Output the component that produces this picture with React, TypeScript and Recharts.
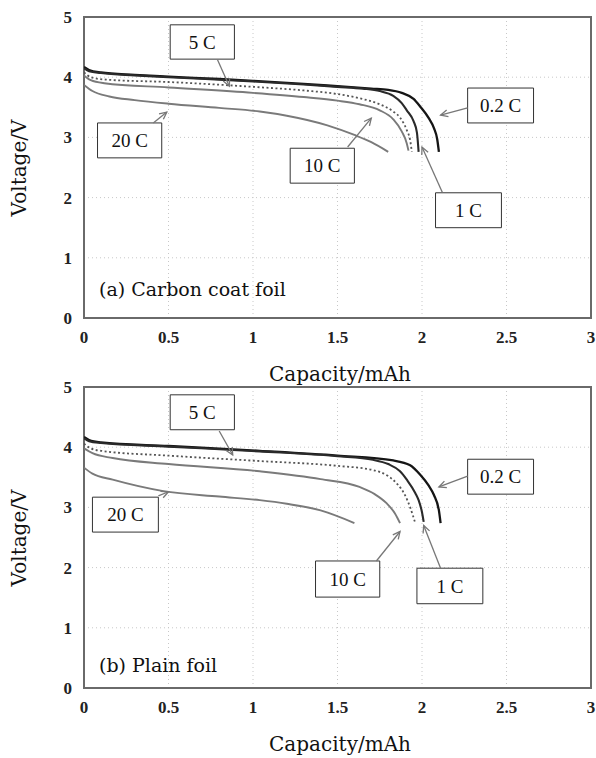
import React from "react"
import {
  LineChart,
  Line,
  XAxis,
  YAxis,
  CartesianGrid,
  ReferenceArea,
  ReferenceLine,
} from "recharts"

// ── Data: [capacity mAh, voltage V] ─────────────────────────────────────────
const X_TICKS = [0, 0.5, 1, 1.5, 2, 2.5, 3]
const Y_TICKS = [0, 1, 2, 3, 4, 5]

// (a) Carbon coat foil
const carbon02C = [[0, 4.17], [0.03, 4.12], [0.1, 4.08], [0.3, 4.04], [0.5, 4.01], [0.8, 3.97], [1.0, 3.94], [1.3, 3.89], [1.5, 3.85], [1.7, 3.81], [1.8, 3.79], [1.88, 3.74], [1.95, 3.64], [1.99, 3.51], [2.04, 3.32], [2.07, 3.16], [2.09, 2.97], [2.1, 2.76]]
const carbon1C = [[0, 4.15], [0.03, 4.1], [0.1, 4.07], [0.3, 4.03], [0.5, 4.0], [1.0, 3.93], [1.3, 3.88], [1.5, 3.84], [1.65, 3.81], [1.75, 3.77], [1.83, 3.69], [1.88, 3.57], [1.91, 3.45], [1.95, 3.27], [1.97, 3.08], [1.98, 2.76]]
const carbon5C = [[0, 4.08], [0.04, 4.0], [0.13, 3.96], [0.5, 3.92], [1.0, 3.84], [1.3, 3.78], [1.5, 3.72], [1.63, 3.65], [1.75, 3.55], [1.83, 3.43], [1.87, 3.33], [1.91, 3.12], [1.93, 2.95], [1.94, 2.76]]
const carbon10C = [[0, 4.03], [0.04, 3.95], [0.12, 3.9], [0.5, 3.83], [1.0, 3.74], [1.3, 3.67], [1.5, 3.61], [1.63, 3.55], [1.75, 3.45], [1.83, 3.3], [1.88, 3.1], [1.91, 2.9], [1.92, 2.78]]
const carbon20C = [[0, 3.87], [0.05, 3.77], [0.15, 3.68], [0.3, 3.62], [0.5, 3.56], [0.8, 3.49], [1.04, 3.43], [1.2, 3.36], [1.44, 3.2], [1.6, 3.04], [1.7, 2.92], [1.8, 2.76]]

// (b) Plain foil
const plain02C = [[0, 4.17], [0.03, 4.12], [0.1, 4.08], [0.5, 4.02], [1.04, 3.94], [1.5, 3.86], [1.83, 3.78], [1.93, 3.7], [1.99, 3.54], [2.04, 3.36], [2.07, 3.21], [2.1, 2.95], [2.11, 2.74]]
const plain1C = [[0, 4.15], [0.03, 4.1], [0.1, 4.07], [0.5, 4.01], [1.04, 3.93], [1.5, 3.85], [1.71, 3.79], [1.8, 3.72], [1.87, 3.6], [1.91, 3.46], [1.96, 3.24], [1.98, 3.12], [2.0, 2.92], [2.01, 2.76]]
const plain5C = [[0, 4.06], [0.04, 3.98], [0.1, 3.94], [0.5, 3.86], [1.04, 3.77], [1.5, 3.69], [1.71, 3.62], [1.8, 3.52], [1.85, 3.4], [1.9, 3.2], [1.93, 3.0], [1.96, 2.74]]
const plain10C = [[0, 3.98], [0.05, 3.9], [0.17, 3.82], [0.5, 3.72], [1.04, 3.6], [1.4, 3.47], [1.63, 3.34], [1.72, 3.22], [1.79, 3.07], [1.84, 2.9], [1.87, 2.74]]
const plain20C = [[0, 3.66], [0.05, 3.56], [0.17, 3.46], [0.47, 3.27], [0.8, 3.18], [1.04, 3.12], [1.2, 3.06], [1.4, 2.95], [1.6, 2.74]]

// rate labels: box [x1, x2, y1, y2] and arrow [from, to] in data units
const carbonLabels = [
  { text: "5 C", box: [0.51, 0.89, 4.3, 4.87], arrow: [[0.79, 4.29], [0.86, 3.85]] },
  { text: "20 C", box: [0.08, 0.46, 2.66, 3.24], arrow: [[0.41, 3.24], [0.49, 3.42]] },
  { text: "10 C", box: [1.22, 1.6, 2.24, 2.82], arrow: [[1.56, 2.84], [1.7, 3.32]] },
  { text: "1 C", box: [2.08, 2.47, 1.5, 2.08], arrow: [[2.12, 2.09], [2.0, 2.84]] },
  { text: "0.2 C", box: [2.27, 2.66, 3.24, 3.82], arrow: [[2.27, 3.49], [2.11, 3.37]] },
]
const plainLabels = [
  { text: "5 C", box: [0.51, 0.89, 4.29, 4.87], arrow: [[0.8, 4.27], [0.88, 3.87]] },
  { text: "20 C", box: [0.05, 0.44, 2.59, 3.17], arrow: [[0.44, 3.19], [0.5, 3.26]] },
  { text: "10 C", box: [1.37, 1.75, 1.51, 2.11], arrow: [[1.73, 2.11], [1.87, 2.6]] },
  { text: "1 C", box: [1.97, 2.36, 1.4, 1.99], arrow: [[2.11, 1.99], [2.01, 2.7]] },
  { text: "0.2 C", box: [2.27, 2.66, 3.22, 3.8], arrow: [[2.27, 3.52], [2.1, 3.34]] },
]

const toPts = (arr: number[][]) => arr.map(([c, v]) => ({ c, v }))

const SERIF = '"Liberation Serif", "DejaVu Serif", serif'
const WIDE_SERIF = '"DejaVu Serif", "Liberation Serif", serif'

// ── line styles per rate ─────────────────────────────────────────────────────
const SERIES_STYLE = [
  { key: "0.2C", stroke: "#151515", width: 2.3, dash: undefined },
  { key: "1C", stroke: "#2a2a2a", width: 2.1, dash: undefined },
  { key: "5C", stroke: "#555", width: 1.8, dash: "2 2.5" },
  { key: "10C", stroke: "#7a7a7a", width: 1.9, dash: undefined },
  { key: "20C", stroke: "#7a7a7a", width: 1.9, dash: undefined },
]

function Arrow(props: any) {
  const { x1, y1, x2, y2 } = props
  if ([x1, y1, x2, y2].some((n) => typeof n !== "number")) return null
  const a = Math.atan2(y2 - y1, x2 - x1)
  const L = 8
  const W = 0.45
  const p1 = `${x2 - L * Math.cos(a - W)},${y2 - L * Math.sin(a - W)}`
  const p2 = `${x2 - L * Math.cos(a + W)},${y2 - L * Math.sin(a + W)}`
  return (
    <g>
      <line x1={x1} y1={y1} x2={x2} y2={y2} stroke="#777" strokeWidth={1.3} />
      <polyline points={`${p1} ${x2},${y2} ${p2}`} fill="none" stroke="#777" strokeWidth={1.3} />
    </g>
  )
}

interface PanelProps {
  top: number
  series: number[][][]
  labels: { text: string; box: number[]; arrow: number[][] }[]
  title: string
  titleTop: number
}

function Panel({ top, series, labels, title, titleTop }: PanelProps) {
  return (
    <div style={{ position: "absolute", left: 0, top }}>
      <LineChart width={596} height={380} margin={{ top: 17, right: 5, left: 0, bottom: 32 }}>
        <CartesianGrid stroke="#c8c8c8" strokeDasharray="1 3" />
        <XAxis
          dataKey="c"
          type="number"
          domain={[0, 3]}
          ticks={X_TICKS}
          allowDataOverflow
          height={30}
          axisLine={false}
          tickLine={false}
          tickSize={0}
          tickMargin={13}
          tick={{ fontSize: 17, fontWeight: 700, fill: "#222", fontFamily: SERIF }}
        />
        <YAxis
          type="number"
          domain={[0, 5]}
          ticks={Y_TICKS}
          width={84}
          axisLine={false}
          tickLine={false}
          tickSize={0}
          tickMargin={12}
          tick={{ fontSize: 17, fontWeight: 700, fill: "#222", fontFamily: SERIF }}
        />
        <ReferenceArea x1={0} x2={3} y1={0} y2={5} fill="none" stroke="#6a6a6a" strokeWidth={2} />
        {series.map((pts, i) => (
          <Line
            key={SERIES_STYLE[i].key}
            data={toPts(pts)}
            dataKey="v"
            type="monotone"
            stroke={SERIES_STYLE[i].stroke}
            strokeWidth={SERIES_STYLE[i].width}
            strokeDasharray={SERIES_STYLE[i].dash}
            dot={false}
            isAnimationActive={false}
          />
        ))}
        {labels.map((l) => (
          <ReferenceLine
            key={`a-${l.text}`}
            segment={[
              { x: l.arrow[0][0], y: l.arrow[0][1] },
              { x: l.arrow[1][0], y: l.arrow[1][1] },
            ]}
            shape={Arrow}
          />
        ))}
        {labels.map((l) => (
          <ReferenceArea
            key={`b-${l.text}`}
            x1={l.box[0]}
            x2={l.box[1]}
            y1={l.box[2]}
            y2={l.box[3]}
            fill="#fff"
            fillOpacity={1}
            stroke="#333"
            strokeWidth={1}
            label={{ value: l.text, position: "center", fontSize: 19, fill: "#111", fontFamily: SERIF }}
          />
        ))}
      </LineChart>
      <div
        style={{
          position: "absolute",
          left: 99,
          top: titleTop,
          transform: "translateY(-50%)",
          fontFamily: WIDE_SERIF,
          fontSize: 19,
          color: "#111",
          whiteSpace: "nowrap",
        }}
      >
        {title}
      </div>
      <div
        style={{
          position: "absolute",
          left: 19,
          top: 168,
          transform: "translate(-50%, -50%) rotate(-90deg)",
          fontFamily: WIDE_SERIF,
          fontSize: 20,
          color: "#111",
          whiteSpace: "nowrap",
        }}
      >
        Voltage/V
      </div>
      <div
        style={{
          position: "absolute",
          left: 340,
          top: 374,
          transform: "translate(-50%, -50%)",
          fontFamily: WIDE_SERIF,
          fontSize: 20,
          color: "#111",
          whiteSpace: "nowrap",
        }}
      >
        Capacity/mAh
      </div>
    </div>
  )
}

export default function App() {
  return (
    <div style={{ position: "absolute", left: 0, top: 0, width: 596, height: 758, background: "#fff", overflow: "hidden" }}>
      <Panel
        top={0}
        series={[carbon02C, carbon1C, carbon5C, carbon10C, carbon20C]}
        labels={carbonLabels}
        title="(a) Carbon coat foil"
        titleTop={289}
      />
      <Panel
        top={370}
        series={[plain02C, plain1C, plain5C, plain10C, plain20C]}
        labels={plainLabels}
        title="(b) Plain foil"
        titleTop={295}
      />
    </div>
  )
}
